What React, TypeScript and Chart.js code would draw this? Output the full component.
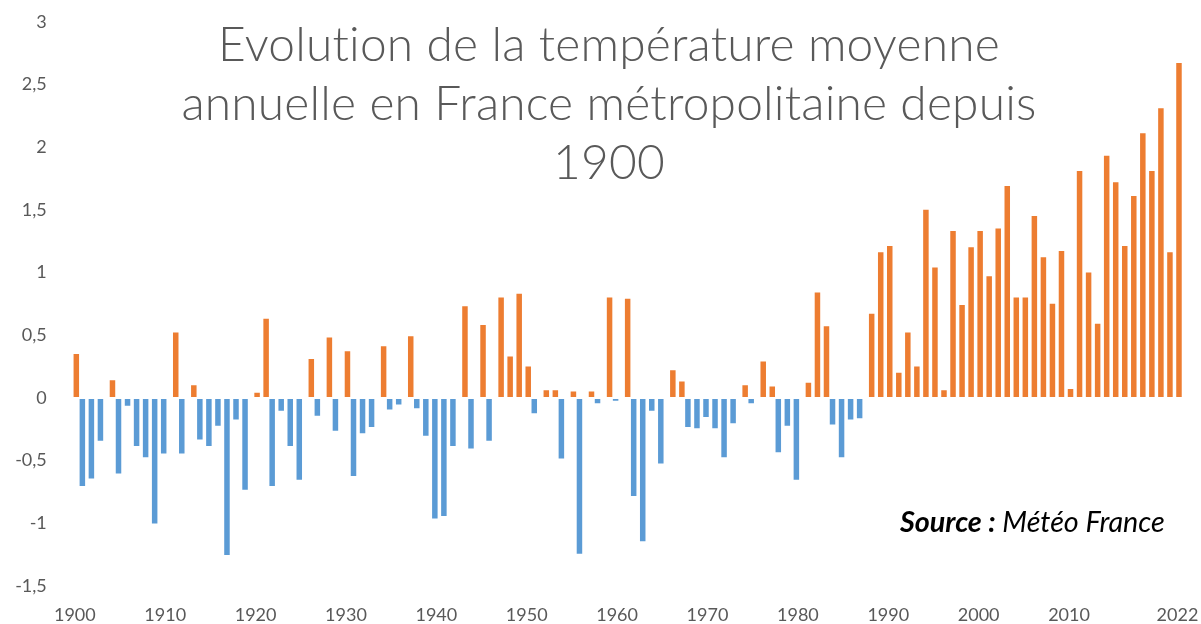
import React, { useEffect, useRef } from "react";
import { Chart, registerables } from "chart.js";

Chart.register(...registerables);

// Temperature anomaly (°C) by year, 1900 → 2022
const FIRST_YEAR = 1900;
const ANOMALY_1900S = [0.36, -0.71, -0.65, -0.35, 0.15, -0.61, -0.07, -0.39, -0.48, -1.01];
const ANOMALY_1910S = [-0.45, 0.53, -0.45, 0.11, -0.34, -0.39, -0.23, -1.26, -0.18, -0.74];
const ANOMALY_1920S = [0.05, 0.64, -0.71, -0.11, -0.39, -0.66, 0.32, -0.15, 0.49, -0.27];
const ANOMALY_1930S = [0.38, -0.63, -0.29, -0.24, 0.42, -0.1, -0.06, 0.5, -0.09, -0.31];
const ANOMALY_1940S = [-0.97, -0.95, -0.39, 0.74, -0.41, 0.59, -0.35, 0.81, 0.34, 0.84];
const ANOMALY_1950S = [0.26, -0.13, 0.07, 0.07, -0.49, 0.06, -1.25, 0.06, -0.05, 0.81];
const ANOMALY_1960S = [-0.03, 0.8, -0.79, -1.15, -0.11, -0.53, 0.23, 0.14, -0.24, -0.25];
const ANOMALY_1970S = [-0.16, -0.25, -0.48, -0.21, 0.11, -0.05, 0.3, 0.1, -0.44, -0.23];
const ANOMALY_1980S = [-0.66, 0.13, 0.85, 0.58, -0.22, -0.48, -0.18, -0.17, 0.68, 1.17];
const ANOMALY_1990S = [1.22, 0.21, 0.53, 0.26, 1.51, 1.05, 0.07, 1.34, 0.75, 1.21];
const ANOMALY_2000S = [1.34, 0.98, 1.36, 1.7, 0.81, 0.81, 1.46, 1.13, 0.76, 1.18];
const ANOMALY_2010S = [0.08, 1.82, 1.01, 0.6, 1.94, 1.73, 1.22, 1.62, 2.12, 1.82];
const ANOMALY_2020S = [2.32, 1.17, 2.68];

const ANOMALIES = [
  ...ANOMALY_1900S, ...ANOMALY_1910S, ...ANOMALY_1920S, ...ANOMALY_1930S,
  ...ANOMALY_1940S, ...ANOMALY_1950S, ...ANOMALY_1960S, ...ANOMALY_1970S,
  ...ANOMALY_1980S, ...ANOMALY_1990S, ...ANOMALY_2000S, ...ANOMALY_2010S,
  ...ANOMALY_2020S,
];
const YEARS = ANOMALIES.map((_, i) => String(FIRST_YEAR + i));
const X_TICK_LABELS = ["1900", "1910", "1920", "1930", "1940", "1950", "1960", "1970", "1980", "1990", "2000", "2010", "2022"];
const Y_MIN = -1.5;
const Y_MAX = 3;
const Y_STEP = 0.5;

const TITLE_LINES = [
  "Evolution de la température moyenne",
  "annuelle en France métropolitaine depuis",
  "1900",
];
const SOURCE_BOLD = "Source :";
const SOURCE_TEXT = " Météo France";

const ORANGE = "#ED7D31";
const BLUE = "#5B9BD5";
const GREY = "#595959";
const FONT = 'Lato, "Open Sans", "DejaVu Sans", sans-serif';

const overlayText = {
  id: "overlayText",
  afterDraw(chart: any) {
    const ctx = chart.ctx;
    ctx.save();
    try {
      ctx.letterSpacing = "0.2px";
    } catch (e) {}
    ctx.fillStyle = GREY;
    ctx.textAlign = "center";
    ctx.textBaseline = "alphabetic";
    ctx.font = `300 48px ${FONT}`;
    const w = ctx.measureText(TITLE_LINES[0]).width;
    const size = (48 * 782) / w;
    ctx.font = `300 ${size}px ${FONT}`;
    const baselines = [61, 120, 179];
    TITLE_LINES.forEach((line, i) => ctx.fillText(line, 609, baselines[i]));

    // source note
    try {
      ctx.letterSpacing = "0px";
    } catch (e) {}
    ctx.textAlign = "left";
    ctx.fillStyle = "#000000";
    const base = 24;
    ctx.font = `italic 700 ${base}px ${FONT}`;
    const wb = ctx.measureText(SOURCE_BOLD).width;
    ctx.font = `italic 400 ${base}px ${FONT}`;
    const wt = ctx.measureText(SOURCE_TEXT).width;
    const s = (base * 265) / (wb + wt);
    ctx.font = `italic 700 ${s}px ${FONT}`;
    const wb2 = ctx.measureText(SOURCE_BOLD).width;
    ctx.fillText(SOURCE_BOLD, 900, 532);
    ctx.font = `italic 400 ${s}px ${FONT}`;
    ctx.fillText(SOURCE_TEXT, 900 + wb2, 532);
    ctx.restore();
  },
};

export default function App() {
  const canvasRef = useRef<HTMLCanvasElement | null>(null);

  useEffect(() => {
    document.body.style.margin = "0";
    const canvas = canvasRef.current;
    if (!canvas) return;
    const negative = ANOMALIES.map((v) => (v < 0 ? v : null));
    const positive = ANOMALIES.map((v) => (v >= 0 ? v : null));
    const barStyle = {
      borderColor: "rgba(255,255,255,0.3)",
      borderWidth: 1,
      borderSkipped: false,
      categoryPercentage: 0.664,
      barPercentage: 2.5,
    };
    const chart = new Chart(canvas, {
      type: "bar",
      data: {
        labels: YEARS,
        datasets: [
          { label: "négatif", data: negative, backgroundColor: BLUE, ...barStyle },
          { label: "positif", data: positive, backgroundColor: ORANGE, ...barStyle },
        ],
      },
      options: {
        responsive: false,
        animation: false,
        layout: { padding: { top: 22, right: 19, left: 0, bottom: 0 } },
        plugins: {
          legend: { display: false },
          title: { display: false },
          tooltip: { enabled: false },
        },
        scales: {
          x: {
            grid: { display: false, drawTicks: false },
            border: { display: false },
            ticks: {
              autoSkip: false,
              maxRotation: 0,
              minRotation: 0,
              padding: 18,
              color: GREY,
              font: { family: FONT, size: 18 },
              callback: (_v: any, i: number) =>
                X_TICK_LABELS.includes(YEARS[i]) ? YEARS[i] : "",
            },
            afterFit: (scale: any) => {
              scale.height = 38;
              scale.paddingLeft = 0;
              scale.paddingRight = 0;
            },
          },
          y: {
            min: Y_MIN,
            max: Y_MAX,
            grid: { display: false, drawTicks: false },
            border: { display: false },
            ticks: {
              stepSize: Y_STEP,
              padding: 23.5,
              color: GREY,
              font: { family: FONT, size: 18 },
              callback: (v: any) => String(v).replace(".", ","),
            },
            afterFit: (scale: any) => {
              scale.width = 70.3;
              scale.paddingTop = 0;
              scale.paddingBottom = 0;
            },
          },
        },
      },
      plugins: [overlayText],
    });
    return () => chart.destroy();
  }, []);

  return (
    <div style={{ width: 1201, height: 624 }}>
      <canvas ref={canvasRef} width={1201} height={624} />
    </div>
  );
}
